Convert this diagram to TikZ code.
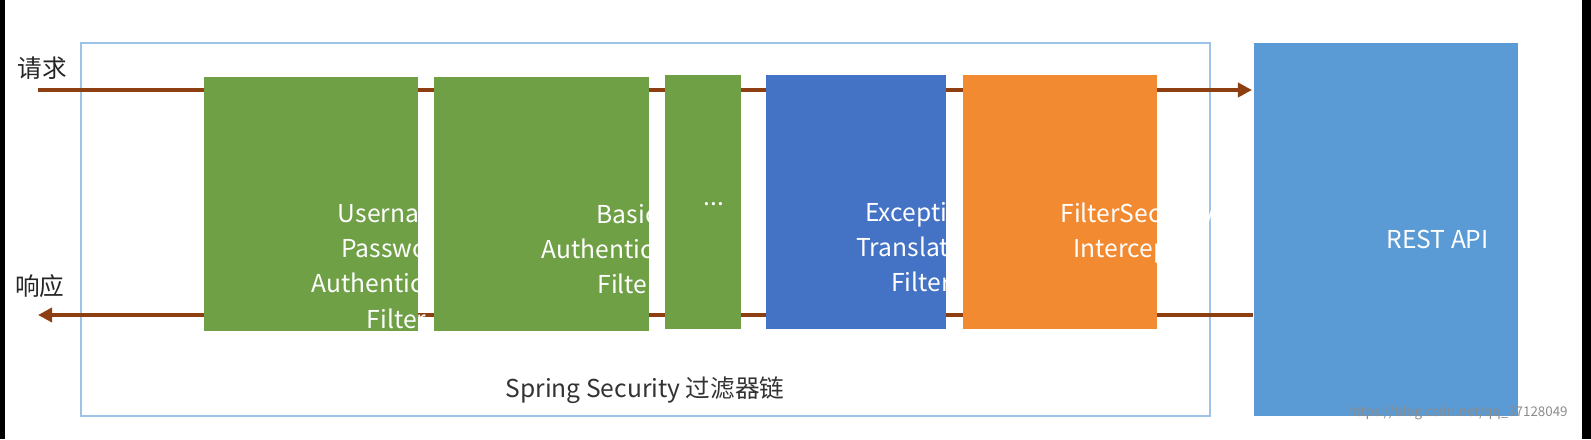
\documentclass[tikz,border=0pt]{standalone}
\usepackage{fontspec}
\setmainfont{Noto Sans CJK SC}
\usetikzlibrary{arrows.meta}
\definecolor{brn}{HTML}{8E3F12}
\definecolor{grn}{HTML}{6FA046}
\definecolor{blu}{HTML}{4472C4}
\definecolor{org}{HTML}{F28A32}
\definecolor{rest}{HTML}{5B9BD5}
\definecolor{frm}{HTML}{9DC3E6}
\tikzset{
 box/.style={draw=none,anchor=north west,inner sep=0pt,text=white,align=center,font=\fontsize{7}{10}\selectfont},
 flow/.style={brn,line width=1.2pt,-{Triangle[length=4pt,width=4pt]}}
}
\begin{document}
\begin{tikzpicture}[x=0.01cm,y=-0.01cm]
\useasboundingbox[fill=white] (0,0) rectangle (1591,439);
\fill[black] (0,0) rectangle (5,439);
\fill[black] (1582,0) rectangle (1591,439);
\node[draw=frm,line width=0.6pt,minimum width=11.28cm,minimum height=3.73cm,anchor=north west,inner sep=0pt] (frame) at (80,42) {};
\coordinate (inL) at (38,90);
\coordinate (inR) at (1252,90);
\coordinate (outR) at (1253,315);
\coordinate (outL) at (38,315);
\draw[flow] (inL) -- (inR);
\draw[flow] (outR) -- (outL);
\node[font=\fontsize{7}{10}\selectfont,text=black!85] (req) at (42,68) {请求};
\node[font=\fontsize{7}{10}\selectfont,text=black!85] (resp) at (40,286) {响应};
\node[box,fill=grn,minimum width=2.14cm,minimum height=2.54cm] (b1) at (203,76) {};
\node[box] at (b1.center) {Username\\Password\\Authentication\\Filter};
\node[box,fill=grn,minimum width=2.15cm,minimum height=2.54cm] (b2) at (433,76) {};
\node[box] at (b2.center) {Basic\\Authentication\\Filter};
\node[box,fill=grn,minimum width=0.76cm,minimum height=2.54cm] (b3) at (664,74) {};
\node[box] at (b3.center) {...};
\node[box,fill=blu,minimum width=1.80cm,minimum height=2.54cm] (b4) at (765,74) {};
\node[box] at (b4.center) {Exception\\Translation\\Filter};
\node[box,fill=org,minimum width=1.94cm,minimum height=2.54cm] (b5) at (962,74) {};
\node[box] at (b5.center) {FilterSecurity\\Interceptor};
\node[box,fill=rest,minimum width=2.64cm,minimum height=3.73cm] (api) at (1253,42) {};
\node[box] at (api.center) {REST API};
\node[font=\fontsize{7}{10}\selectfont,text=black!80] (lbl) at (645,390) {Spring Security 过滤器链};
\node[font=\fontsize{3.8}{5}\selectfont,text=black!45,anchor=east] (wm) at (1580,413) {https://blog.csdn.net/qq\_37128049};
\end{tikzpicture}
\end{document}
